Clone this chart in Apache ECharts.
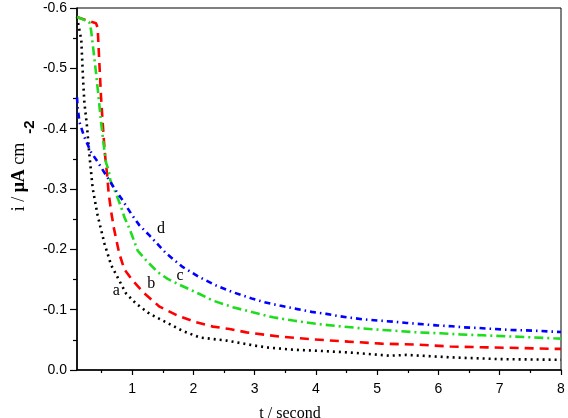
<!DOCTYPE html>
<html>
<head>
<meta charset="utf-8">
<script src="https://cdn.jsdelivr.net/npm/echarts@6/dist/echarts.min.js"></script>
<style>html,body{margin:0;padding:0;background:#fff}#c{width:568px;height:418px}</style>
</head>
<body>
<div id="c"></div>
<script>
// ---- data ----
const aT = [0.1, 0.12, 0.17, 0.20, 0.22, 0.264, 0.30, 0.356, 0.437, 0.48, 0.547, 0.657, 0.90, 1.065, 1.28, 1.556, 1.82, 2.10, 2.54, 3.03, 3.19, 3.62, 4.01, 4.55, 5.21, 5.48, 6.19, 7.01, 7.93, 8.0];
const aI = [-0.585, -0.586, -0.547, -0.480, -0.444, -0.403, -0.359, -0.301, -0.256, -0.238, -0.210, -0.174, -0.127, -0.110, -0.0935, -0.079, -0.065, -0.054, -0.0487, -0.040, -0.0375, -0.0337, -0.032, -0.029, -0.0237, -0.025, -0.021, -0.018, -0.017, -0.017];

const bT = [0.1, 0.12, 0.274, 0.411, 0.437, 0.465, 0.493, 0.535, 0.558, 0.591, 0.617, 0.657, 0.70, 0.79, 0.874, 1.01, 1.20, 1.447, 1.746, 2.047, 2.32, 2.59, 2.865, 3.41, 3.95, 4.53, 5.07, 5.645, 6.19, 6.79, 7.33, 7.88, 8.0];
const bI = [-0.585, -0.585, -0.579, -0.5746, -0.567, -0.509, -0.4505, -0.386, -0.356, -0.324, -0.293, -0.263, -0.236, -0.193, -0.1666, -0.148, -0.127, -0.105, -0.090, -0.079, -0.0719, -0.068, -0.0624, -0.0553, -0.0508, -0.047, -0.0437, -0.042, -0.039, -0.0375, -0.0365, -0.035, -0.035];

const cT = [0.1, 0.122, 0.30, 0.33, 0.383, 0.411, 0.454, 0.493, 0.535, 0.575, 0.617, 0.645, 0.738, 0.82, 0.874, 0.956, 1.09, 1.23, 1.42, 1.58, 1.80, 2.10, 2.32, 2.645, 2.97, 3.30, 3.63, 4.01, 4.44, 4.935, 5.26, 5.645, 6.03, 6.35, 6.73, 7.12, 7.55, 7.88, 8.0];
const cI = [-0.585, -0.5855, -0.577, -0.563, -0.517, -0.492, -0.4505, -0.4107, -0.374, -0.3434, -0.331, -0.314, -0.292, -0.270, -0.253, -0.2346, -0.198, -0.1815, -0.162, -0.151, -0.140, -0.126, -0.115, -0.104, -0.0956, -0.0873, -0.0819, -0.0764, -0.0719, -0.0674, -0.0653, -0.0624, -0.0608, -0.059, -0.0575, -0.0558, -0.054, -0.0525, -0.052];

const dT = [0.1, 0.11, 0.14, 0.22, 0.33, 0.437, 0.575, 0.71, 0.846, 0.984, 1.12, 1.283, 1.556, 1.83, 2.10, 2.374, 2.645, 2.97, 3.16, 3.41, 3.68, 3.93, 4.17, 4.39, 4.77, 5.02, 5.26, 5.48, 5.75, 5.97, 6.22, 6.41, 6.65, 6.90, 7.17, 7.39, 7.63, 7.85, 8.0];
const dI = [-0.452, -0.436, -0.411, -0.386, -0.361, -0.345, -0.3227, -0.301, -0.281, -0.259, -0.2397, -0.223, -0.1933, -0.1704, -0.1538, -0.140, -0.1289, -0.1179, -0.1123, -0.1068, -0.1013, -0.0963, -0.093, -0.089, -0.084, -0.0819, -0.0802, -0.078, -0.0757, -0.074, -0.0724, -0.0707, -0.0697, -0.068, -0.0664, -0.0658, -0.0648, -0.0636, -0.063];

const curveNames = ['a', 'b', 'c', 'd'];
const labelT = [0.74, 1.31, 1.78, 1.47];
const labelI = [-0.132, -0.143, -0.156, -0.234];

const xTickValues = [1, 2, 3, 4, 5, 6, 7, 8];
const xMinorValues = [0.5, 1.5, 2.5, 3.5, 4.5, 5.5, 6.5, 7.5];

// ---- chart ----
const zip = (t, v) => t.map((x, i) => [x, v[i]]);
const chart = echarts.init(document.getElementById('c'), null, { renderer: 'canvas' });

const lineStyles = [
  { color: '#000000', width: 2.6, type: [2, 4] },
  { color: '#ff0000', width: 2.6, type: [9, 6] },
  { color: '#1edc1e', width: 2.6, type: [9, 4, 2, 4] },
  { color: '#0000ff', width: 2.6, type: [6, 4, 1.5, 4] }
];
const sets = [zip(aT, aI), zip(bT, bI), zip(cT, cI), zip(dT, dI)];

const tickFont = { fontFamily: 'Liberation Sans, Arial, sans-serif', fontSize: 14, color: '#000' };

chart.setOption({
  animation: false,
  backgroundColor: '#fff',
  grid: { left: 77, right: 7, top: 8, bottom: 48, show: true, borderColor: '#000', borderWidth: 1, backgroundColor: 'transparent' },
  xAxis: [{
    type: 'value', min: 0.1, max: 8,
    axisLine: { show: true, onZero: false, lineStyle: { color: '#000', width: 1.6 } },
    axisTick: { show: true, inside: false, length: 5, customValues: xTickValues, lineStyle: { color: '#000', width: 1.2 } },
    axisLabel: { show: true, customValues: xTickValues, margin: 12, formatter: v => String(Math.round(v)), ...tickFont },
    splitLine: { show: false }
  }, {
    type: 'value', min: 0.1, max: 8, position: 'bottom', gridIndex: 0,
    axisLine: { show: false, onZero: false },
    axisTick: { show: true, inside: false, length: 3, customValues: xMinorValues, lineStyle: { color: '#000', width: 1.2 } },
    axisLabel: { show: false },
    splitLine: { show: false }
  }],
  yAxis: {
    type: 'value', min: -0.6, max: 0, interval: 0.1, inverse: true,
    axisLine: { show: true, onZero: false, lineStyle: { color: '#000', width: 1.6 } },
    axisTick: { show: true, inside: false, length: 7, lineStyle: { color: '#000', width: 1.2 } },
    minorTick: { show: true, splitNumber: 2, length: 4, lineStyle: { color: '#000', width: 1.2 } },
    axisLabel: { margin: 10, formatter: v => (Math.abs(v) < 1e-9 ? '0.0' : v.toFixed(1)), ...tickFont },
    splitLine: { show: false }
  },
  series: sets.map((d, i) => ({
    type: 'line', name: curveNames[i], data: d, showSymbol: false, symbol: 'none',
    lineStyle: lineStyles[i], z: 3
  })).concat([{
    type: 'scatter', symbolSize: 0,
    data: labelT.map((t, i) => ({ value: [t, labelI[i]], name: curveNames[i] })),
    label: { show: true, position: 'inside', formatter: p => p.name,
      fontFamily: 'Liberation Serif, Times New Roman, serif', fontSize: 16, color: '#000', opacity: 1 },
    itemStyle: { opacity: 1 },
    z: 5
  }]),
  graphic: [
    { type: 'text', x: 19, y: 177, rotation: Math.PI / 2,
      style: { text: '{n|i / }{b|μA}{n| cm}', align: 'center', verticalAlign: 'middle', fill: '#000',
        rich: {
          n: { fontFamily: 'Liberation Serif, Times New Roman, serif', fontSize: 18, fill: '#000' },
          b: { fontFamily: 'Liberation Serif, Times New Roman, serif', fontSize: 18, fontWeight: 'bold', fill: '#000' }
        } } },
    { type: 'text', x: 30, y: 127, rotation: Math.PI / 2,
      style: { text: '-2', align: 'center', verticalAlign: 'middle', fill: '#000',
        font: 'bold 15px Liberation Sans, Arial, sans-serif' } },
    { type: 'text', x: 290, y: 406,
      style: { text: 't / second', align: 'center', verticalAlign: 'top', fill: '#000',
        font: '16px Liberation Serif, Times New Roman, serif' } }
  ]
});
</script>
</body>
</html>
